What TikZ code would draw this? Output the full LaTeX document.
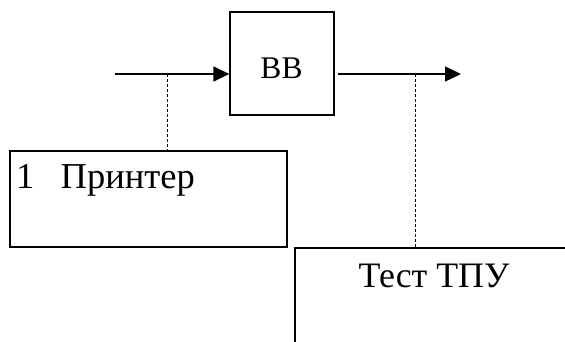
\documentclass[tikz,border=0pt]{standalone}
\usepackage{fontspec}
\setmainfont{Liberation Serif}
\usetikzlibrary{arrows.meta}
\begin{document}
\begin{tikzpicture}[x=1pt,y=-1pt,
  box/.style={draw,line width=1.3pt,rectangle,inner sep=0pt},
  arr/.style={line width=1.3pt,-{Triangle[length=16pt,width=15pt]}},
  tap/.style={line width=0.8pt,dash pattern=on 3pt off 2pt},
  lbl/.style={font=\fontsize{36.5}{42}\selectfont,inner sep=0pt}]
\useasboundingbox (0,0) rectangle (565,341);
\node[box,minimum width=104pt,minimum height=103pt] (bb) at (282,63.5) {};
\node[inner sep=0pt,anchor=base,font=\fontsize{31.5}{38}\selectfont] (bbt) at (281.5,78) {ВВ};
\node[box,line width=2.4pt,minimum width=277pt,minimum height=96pt] (pr) at (148.5,199) {};
\node[lbl,anchor=base west] (prt) at (16,188) {1\hspace{0.72em}Принтер};
\node[inner sep=0pt,minimum width=272pt,minimum height=95pt] (ts) at (431,296) {};
\draw[line width=2pt] (ts.south west) -- (ts.north west) -- (ts.north east);
\node[lbl,anchor=base,font=\fontsize{35.8}{42}\selectfont] (tst) at (434,287) {Тест ТПУ};
\coordinate (in) at (115,74);
\coordinate (out) at (461,74);
\coordinate (t1) at (167,74);
\coordinate (t2) at (415,74);
\draw[arr] (in) -- (in -| bb.west);
\draw[arr,shorten <=3pt] (bb.east |- out) -- (out);
\draw[tap] (t1) -- (t1 |- pr.north);
\draw[tap] (t2) -- (t2 |- ts.north);
\end{tikzpicture}
\end{document}
